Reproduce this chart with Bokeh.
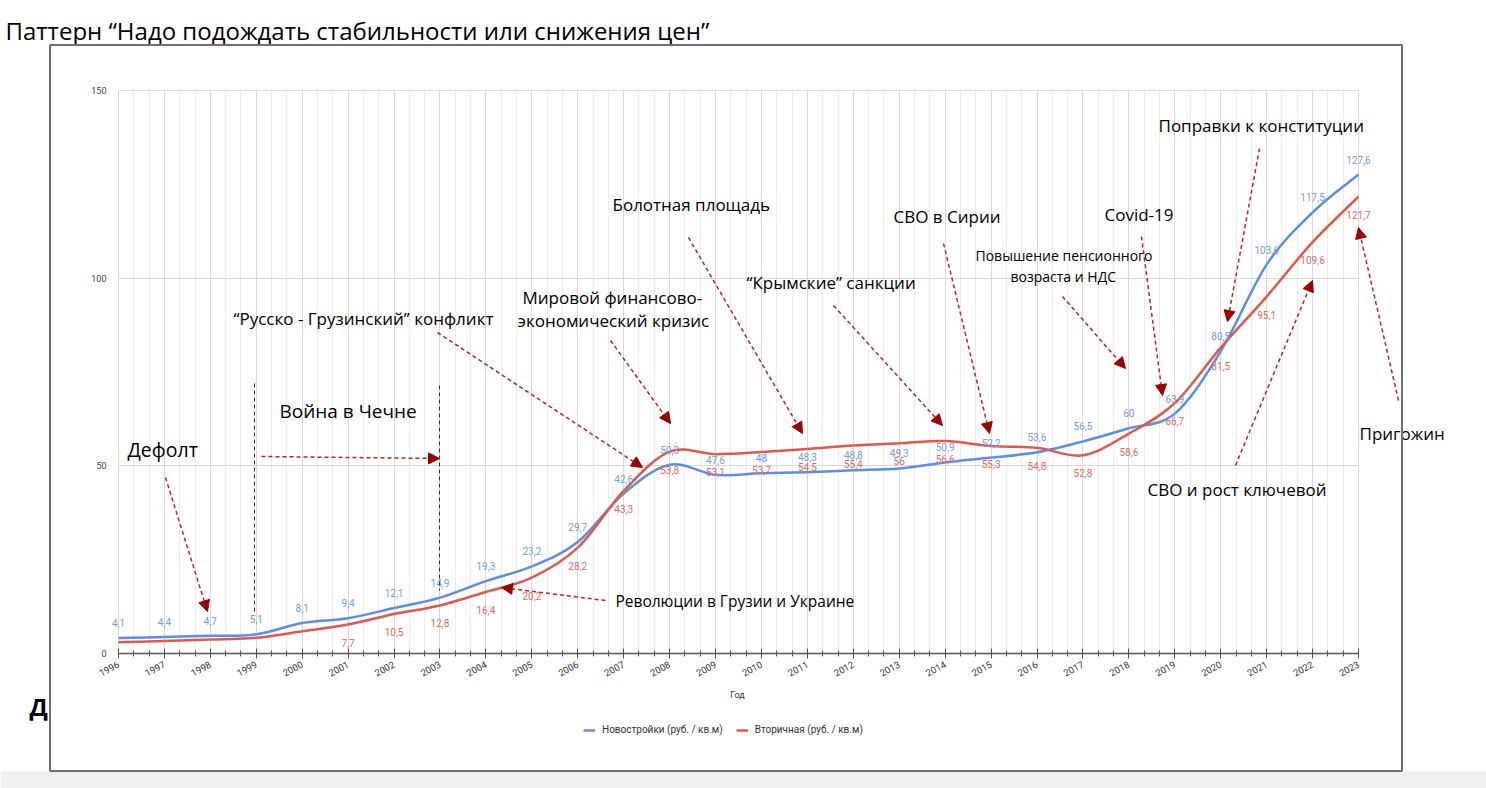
from bokeh.plotting import figure
from bokeh.models import (Range1d, ColumnDataSource, Label, Arrow, NormalHead, PolyAnnotation,
                          SingleIntervalTicker, FixedTicker, Legend, LegendItem, Grid)
from bokeh.core.properties import value
from bokeh.embed import file_html
from bokeh.resources import INLINE

# ---------------- data ----------------
years = list(range(1996, 2024))
new_build = [4.1, 4.4, 4.7, 5.1, 8.1, 9.4, 12.1, 14.9, 19.3, 23.2, 29.7, 42.6, 50.3, 47.6,
             48, 48.3, 48.8, 49.3, 50.9, 52.2, 53.6, 56.5, 60, 63.9, 80.5, 103.6, 117.5, 127.6]
secondary = [3.0, 3.3, 3.7, 4.2, 5.9, 7.7, 10.5, 12.8, 16.4, 20.2, 28.2, 43.3, 53.8, 53.1,
             53.7, 54.5, 55.4, 56, 56.6, 55.3, 54.8, 52.8, 58.6, 66.7, 81.5, 95.1, 109.6, 121.7]
secondary_labeled = [False] * 5 + [True] * 23
y_ticks = [0, 50, 100, 150]
series_names = ["Новостройки (руб. / кв.м)", "Вторичная (руб. / кв.м)"]
title_text = "Паттерн “Надо подождать стабильности или снижения цен”"
x_title = "Год"

BLUE = "#5a8ee6"
RED = "#e3574b"
BLUE_LBL = "#6f9de6"
RED_LBL = "#e06a60"
ARROW_LINE = "#b82525"
ARROW_HEAD = "#9b0000"

X_MIN, X_MAX = years[0], years[-1]
Y_MIN, Y_MAX = y_ticks[0], y_ticks[-1]

W, H = 1486, 788
# chart area in page pixels: x 118..1358 <-> 1996..2023, y 653..90 <-> 0..150
FX0, FX1, FY0, FY1 = 118, 1358, 653, 90


def dx(px):
    return X_MIN + (px - FX0) * (X_MAX - X_MIN) / float(FX1 - FX0)


def dy(py):
    return Y_MIN + (FY0 - py) * (Y_MAX - Y_MIN) / float(FY0 - FY1)


p = figure(width=W, height=H, output_backend="svg", toolbar_location=None,
           x_range=Range1d(dx(0), dx(W)), y_range=Range1d(dy(H), dy(0)),
           min_border=0, background_fill_color="white", border_fill_color="white",
           outline_line_color=None)

# axes drawn inside the canvas at fixed data locations
p.xaxis.fixed_location = Y_MIN
p.xaxis.bounds = (X_MIN, X_MAX)
p.yaxis.fixed_location = X_MIN
p.yaxis.bounds = (Y_MIN, Y_MAX)

p.xaxis.ticker = SingleIntervalTicker(interval=1, num_minor_ticks=3)
p.xaxis.axis_line_color = "#555555"
p.xaxis.axis_line_width = 1.5
p.xaxis.major_tick_line_color = "#555555"
p.xaxis.major_tick_in = 5
p.xaxis.major_tick_out = 5
p.xaxis.minor_tick_line_color = "#555555"
p.xaxis.minor_tick_in = 3
p.xaxis.minor_tick_out = 3
p.xaxis.major_label_orientation = 0.5
p.xaxis.major_label_text_font = "Roboto"
p.xaxis.major_label_text_font_size = "9.5px"
p.xaxis.major_label_text_color = "#333333"
p.xaxis.major_label_standoff = 5

p.yaxis.ticker = FixedTicker(ticks=y_ticks)
p.yaxis.axis_line_color = None
p.yaxis.major_tick_line_color = None
p.yaxis.minor_tick_line_color = None
p.yaxis.major_label_text_font = "Roboto"
p.yaxis.major_label_text_font_size = "9px"
p.yaxis.major_label_text_color = "#444444"
p.yaxis.major_label_standoff = 6

# grids
p.xgrid.grid_line_color = "#d9d9d9"
p.xgrid.minor_grid_line_color = "#ececec"
p.ygrid.grid_line_color = "#d9d9d9"
if "cross_bounds" in Grid.properties():
    p.xgrid.cross_bounds = (Y_MIN, Y_MAX)
    p.ygrid.cross_bounds = (X_MIN, X_MAX)
    p.xgrid.bounds = (X_MIN, X_MAX)
    p.ygrid.bounds = (Y_MIN, Y_MAX)
else:
    p.xgrid.visible = False
    p.ygrid.visible = False
    minor = [y + k / 3.0 for y in years[:-1] for k in (1, 2)]
    p.segment(x0=minor, y0=[Y_MIN] * len(minor), x1=minor, y1=[Y_MAX] * len(minor),
              line_color="#ececec", line_width=1, level="underlay")
    p.segment(x0=years, y0=[Y_MIN] * len(years), x1=years, y1=[Y_MAX] * len(years),
              line_color="#d9d9d9", line_width=1, level="underlay")
    p.segment(x0=[X_MIN] * 3, y0=y_ticks[1:], x1=[X_MAX] * 3, y1=y_ticks[1:],
              line_color="#d9d9d9", line_width=1, level="underlay")


# smooth curves (Catmull-Rom -> cubic Bezier), drawn from the data points
def bezier_source(xs, ys):
    n = len(xs)
    d = dict(x0=[], y0=[], x1=[], y1=[], cx0=[], cy0=[], cx1=[], cy1=[])
    for i in range(n - 1):
        xm, ym = (xs[i - 1], ys[i - 1]) if i > 0 else (xs[i], ys[i])
        xp, yp = (xs[i + 2], ys[i + 2]) if i + 2 < n else (xs[i + 1], ys[i + 1])
        d["x0"].append(xs[i]); d["y0"].append(ys[i])
        d["x1"].append(xs[i + 1]); d["y1"].append(ys[i + 1])
        d["cx0"].append(xs[i] + (xs[i + 1] - xm) / 6.0)
        d["cy0"].append(ys[i] + (ys[i + 1] - ym) / 6.0)
        d["cx1"].append(xs[i + 1] - (xp - xs[i]) / 6.0)
        d["cy1"].append(ys[i + 1] - (yp - ys[i]) / 6.0)
    return ColumnDataSource(d)


r_blue = p.bezier(x0="x0", y0="y0", x1="x1", y1="y1", cx0="cx0", cy0="cy0", cx1="cx1", cy1="cy1",
                  source=bezier_source(years, new_build), line_color=BLUE, line_width=2.5)
r_red = p.bezier(x0="x0", y0="y0", x1="x1", y1="y1", cx0="cx0", cy0="cy0", cx1="cx1", cy1="cy1",
                 source=bezier_source(years, secondary), line_color=RED, line_width=2.5)


def fmt(v):
    return ("%g" % v).replace(".", ",")


blue_src = ColumnDataSource(dict(x=years, y=new_build, t=[fmt(v) for v in new_build]))
rx = [x for x, k in zip(years, secondary_labeled) if k]
ry = [v for v, k in zip(secondary, secondary_labeled) if k]
red_src = ColumnDataSource(dict(x=rx, y=ry, t=[fmt(v) for v in ry]))
p.text(x="x", y="y", text="t", source=blue_src, text_font=value("Roboto"), text_font_size="10px",
       text_color=BLUE_LBL, text_align="center", text_baseline="middle", y_offset=-15)
p.text(x="x", y="y", text="t", source=red_src, text_font=value("Roboto"), text_font_size="10px",
       text_color=RED_LBL, text_align="center", text_baseline="middle", y_offset=18)

# legend (inside canvas, below the chart area)
legend = Legend(items=[LegendItem(label=series_names[0], renderers=[r_blue]),
                       LegendItem(label=series_names[1], renderers=[r_red])],
                orientation="horizontal", location=(583, 53), margin=0, padding=5,
                border_line_color=None, background_fill_alpha=0,
                label_text_font="Roboto", label_text_font_size="10px", label_text_color="#333333",
                glyph_width=12, glyph_height=10, spacing=13, label_standoff=7)
p.add_layout(legend, "center")

p.add_layout(Label(x=dx(737), y=dy(694), text=x_title, text_font="Roboto", text_font_size="9px",
                   text_color="#333333", text_align="center", text_baseline="middle"))

# ---------------- slide decorations ----------------
p.add_layout(PolyAnnotation(xs=[dx(0), dx(W + 5), dx(W + 5), dx(0)],
                            ys=[dy(771), dy(771), dy(H + 5), dy(H + 5)],
                            fill_color="#efefef", fill_alpha=1, line_color=None, level="underlay"))

p.add_layout(Label(x=dx(5), y=dy(30), text=title_text, text_font="Open Sans", text_font_size="24px",
                   text_color="black", text_align="left", text_baseline="middle"))
p.add_layout(Label(x=dx(29), y=dy(706), text="Д", text_font="Open Sans", text_font_size="24px",
                   text_font_style="bold", text_color="black", text_align="left", text_baseline="middle"))

notes = [
    ("Дефолт", 127, 449, "19.5px"),
    ("Война в Чечне", 279, 410, "19px"),
    ("“Русско - Грузинский” конфликт", 233, 318, "17px"),
    ("Мировой финансово-", 522, 297, "17px"),
    ("экономический кризис", 517, 320, "17px"),
    ("Болотная площадь", 612, 204, "17px"),
    ("“Крымские” санкции", 746, 282, "17px"),
    ("СВО в Сирии", 893, 216, "17px"),
    ("Повышение пенсионного", 975, 255, "14px"),
    ("возраста и НДС", 1010, 276, "14px"),
    ("Covid-19", 1104, 214, "17px"),
    ("Поправки к конституции", 1158, 125, "17px"),
    ("Революции в Грузии и Украине", 615, 600, "15.5px"),
    ("СВО и рост ключевой", 1147, 489, "17px"),
    ("Пригожин", 1359, 433, "17px"),
]
for t, px, py, fs in notes:
    p.add_layout(Label(x=dx(px), y=dy(py), text=t, text_font="Open Sans", text_font_size=fs,
                       text_color="black", text_align="left", text_baseline="middle"))

# black dashed vertical markers
for px, py0, py1 in [(254, 383, 613), (439, 385, 590)]:
    p.add_layout(Arrow(x_start=dx(px), y_start=dy(py0), x_end=dx(px), y_end=dy(py1), start=None, end=None,
                       line_color="#333333", line_width=1, line_dash="4 3"))

arrows = [
    (165, 477, 207, 611),
    (261, 456, 439, 458),
    (437, 332, 642, 467),
    (610, 340, 670, 423),
    (688, 237, 802, 433),
    (833, 305, 942, 425),
    (943, 243, 989, 433),
    (1062, 296, 1125, 368),
    (1141, 236, 1162, 395),
    (1259, 148, 1227, 321),
    (605, 600, 501, 587),
    (1235, 465, 1312, 280),
    (1398, 400, 1358, 227),
]
for x0, y0, x1, y1 in arrows:
    p.add_layout(Arrow(x_start=dx(x0), y_start=dy(y0), x_end=dx(x1), y_end=dy(y1),
                       line_color=ARROW_LINE, line_width=1.5, line_dash="4 3",
                       end=NormalHead(size=11, fill_color=ARROW_HEAD, line_color=ARROW_HEAD)))

# chart picture frame (drawn last so it overlays "Д" and "Пригожин")
p.add_layout(PolyAnnotation(xs=[dx(49.5), dx(1401.5), dx(1401.5), dx(49.5)],
                            ys=[dy(44.5), dy(44.5), dy(770.5), dy(770.5)],
                            fill_alpha=0, line_color="#707070", line_alpha=1, line_width=2))

open("out.html", "w").write(file_html(p, INLINE))
